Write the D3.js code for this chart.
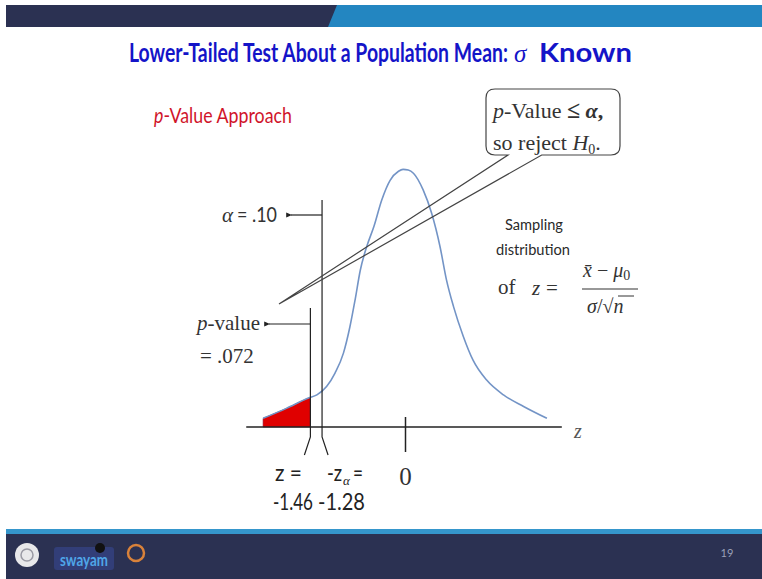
<!DOCTYPE html>
<html><head><meta charset="utf-8">
<script src="https://cdn.jsdelivr.net/npm/d3@7"></script>
<style>body{margin:0;background:#fff}svg{display:block}</style>
</head><body>
<script>
// ---- data ----
const curveZ = [-2.19,-1.83,-1.49,-1.36,-1.21,-1.08,-0.95,-0.85,-0.77,-0.69,-0.59,-0.48,-0.36,-0.23,-0.10,-0.03,0.05,0.13,0.28,0.41,0.54,0.64,0.75,0.90,1.05,1.26,1.52,1.83,2.19];
const curveDensity = [0.0135,0.029,0.045,0.050,0.063,0.084,0.115,0.156,0.198,0.244,0.281,0.312,0.353,0.384,0.398,0.401,0.400,0.395,0.369,0.333,0.281,0.229,0.187,0.141,0.104,0.073,0.050,0.032,0.0135];
const criticalZ = -1.28;
const observedZ = -1.46;
const alphaLabel = ".10";
const pValueLabel = ".072";
const tickValues = [0];
const tickLabels = ["0"];

const W = 762, H = 579;
const svg = d3.select("body").append("svg").attr("width", W).attr("height", H);
const sans = "Lato, 'Open Sans', sans-serif";
const serif = "'Liberation Serif', 'DejaVu Serif', serif";

// place a text so that it spans a given width (horizontal condensing like the original narrow font)
function narrow(sel, x0, yb, width){
  const w = sel.node().getComputedTextLength();
  sel.attr("x",0).attr("y",0).attr("transform",`translate(${x0},${yb}) scale(${width/w},1)`);
  return sel;
}

// ---- slide chrome ----
svg.append("rect").attr("x",6).attr("y",5).attr("width",W-6).attr("height",22).attr("fill","#2b3152");
svg.append("path").attr("d","M337,5 L762,5 L762,27 L328,27 Z").attr("fill","#2386c1");
svg.append("rect").attr("x",6).attr("y",529).attr("width",W-6).attr("height",6).attr("fill","#3596cc");
svg.append("rect").attr("x",6).attr("y",534).attr("width",W-6).attr("height",H-534).attr("fill","#2b3152");
// footer logos (approximate)
svg.append("circle").attr("cx",27).attr("cy",555).attr("r",12).attr("fill","#e8e8ea");
svg.append("circle").attr("cx",27).attr("cy",555).attr("r",6).attr("fill","none").attr("stroke","#9a9aa4").attr("stroke-width",1.5);
svg.append("rect").attr("x",54).attr("y",547).attr("width",60).attr("height",23).attr("rx",3).attr("fill","#323e78");
narrow(svg.append("text").attr("font-family",sans).attr("font-weight","bold")
  .attr("font-size",17).attr("fill","#4fa6e8").text("swayam"), 60, 566, 48);
svg.append("circle").attr("cx",100).attr("cy",548).attr("r",5).attr("fill","#111");
svg.append("circle").attr("cx",136).attr("cy",553).attr("r",8).attr("fill","none").attr("stroke","#d9823a").attr("stroke-width",2.5);
svg.append("text").attr("x",727).attr("y",557).attr("text-anchor","middle").attr("font-family",sans)
  .attr("font-size",11).attr("fill","#9aa0b8").text("19");

// ---- titles ----
const title = svg.append("g").attr("fill","#1414c8").attr("font-weight","bold").attr("font-size",27);
narrow(title.append("text").attr("font-family",sans).text("Lower-Tailed Test About a Population Mean:"), 129, 62, 379);
title.append("text").attr("x",514).attr("y",62).attr("font-family",serif).attr("font-style","italic").attr("font-weight","normal").attr("font-size",25).text("σ");
narrow(title.append("text").attr("font-family",sans).text("Known"), 539, 62, 93);

const sub = svg.append("text").attr("font-family",sans).attr("font-size",21).attr("fill","#d0142a");
sub.append("tspan").attr("font-style","italic").text("p");
sub.append("tspan").text("-Value Approach");
narrow(sub, 154, 123, 138);

// ---- scales ----
const x = d3.scaleLinear().domain([-2.5, 2.5]).range([243, 567]);
const y = d3.scaleLinear().domain([0, 0.4]).range([427, 170]);
const pts = curveZ.map((z,i)=>({z, d: curveDensity[i]}));

// red tail area up to the observed z
function interp(z){
  for(let i=1;i<pts.length;i++){ if(pts[i].z>=z){const a=pts[i-1],b=pts[i];return a.d+(b.d-a.d)*(z-a.z)/(b.z-a.z);} }
  return pts[pts.length-1].d;
}
const tail = pts.filter(p=>p.z<observedZ).concat([{z:observedZ, d:interp(observedZ)}]);
svg.append("path").datum(tail)
  .attr("d", d3.area().x(p=>x(p.z)).y0(y(0)).y1(p=>y(p.d)).curve(d3.curveMonotoneX))
  .attr("fill","#e00000").attr("stroke","#9a1030").attr("stroke-width",0.6);

// density curve
svg.append("path").datum(pts)
  .attr("d", d3.line().x(p=>x(p.z)).y(p=>y(p.d)).curve(d3.curveMonotoneX))
  .attr("fill","none").attr("stroke","#7394c6").attr("stroke-width",1.6);

// horizontal axis line
svg.append("line").attr("x1",x(-2.45)).attr("x2",x(2.42)).attr("y1",y(0)).attr("y2",y(0))
  .attr("stroke","#222").attr("stroke-width",1.3);
// tick at 0 using d3 axis
const axisG = svg.append("g").attr("transform",`translate(0,${y(0)-10})`)
  .call(d3.axisBottom(x).tickValues(tickValues).tickFormat((d,i)=>tickLabels[i]).tickSize(35).tickPadding(15));
axisG.select(".domain").remove();
axisG.selectAll(".tick line").attr("stroke","#222").attr("stroke-width",1.5);
axisG.selectAll(".tick text").attr("font-family",serif).attr("font-size",25).attr("fill","#333");
svg.append("text").attr("x",578).attr("y",438).attr("text-anchor","middle").attr("font-family",serif).attr("font-style","italic")
  .attr("font-size",20).attr("fill","#555").text("z");

// critical and observed z lines with brackets
const lineCol = "#222";
const xc = x(criticalZ), xo = x(observedZ);
svg.append("path").attr("d",`M${xc},200 V437 L${xc+6},455`).attr("fill","none").attr("stroke",lineCol).attr("stroke-width",1.2);
svg.append("path").attr("d",`M${xo},308 V437 L${xo-6},455`).attr("fill","none").attr("stroke",lineCol).attr("stroke-width",1.2);

// arrows
svg.append("defs").append("marker").attr("id","ah").attr("viewBox","0 0 10 10").attr("refX",2).attr("refY",5)
  .attr("markerWidth",5).attr("markerHeight",5).attr("orient","auto")
  .append("path").attr("d","M10,1 L0,5 L10,9 Z").attr("fill","#222");
svg.append("line").attr("x1",xc).attr("x2",291).attr("y1",215).attr("y2",215).attr("stroke","#222").attr("stroke-width",1.2).attr("marker-end","url(#ah)");
svg.append("line").attr("x1",xo).attr("x2",269).attr("y1",324).attr("y2",324).attr("stroke","#222").attr("stroke-width",1.2).attr("marker-end","url(#ah)");

// alpha label
const al = svg.append("g").attr("fill","#333");
al.append("text").attr("x",222).attr("y",222).attr("font-family",serif).attr("font-style","italic").attr("font-size",21).text("α");
narrow(al.append("text").attr("font-family",sans).attr("font-size",21).text("= " + alphaLabel), 237, 222, 40);

// p-value label
const pv = svg.append("text").attr("x",197).attr("y",330).attr("font-family",serif).attr("font-size",21).attr("fill","#333");
pv.append("tspan").attr("font-style","italic").text("p");
pv.append("tspan").text("-value");
svg.append("text").attr("x",200).attr("y",363).attr("font-family",serif).attr("font-size",21).attr("fill","#333").text("= " + pValueLabel);

// below-axis labels
const bl = svg.append("g").attr("fill","#222").attr("font-family",sans).attr("font-size",23);
narrow(bl.append("text").text("z ="), 275, 481, 27);
narrow(bl.append("text").text(String(observedZ)), 273, 510, 40);
narrow(bl.append("text").text("-z"), 327, 481, 15);
bl.append("text").attr("x",343).attr("y",485).attr("font-family",serif).attr("font-style","italic").attr("font-size",13).text("α");
narrow(bl.append("text").text("="), 353, 481, 10);
narrow(bl.append("text").text(String(criticalZ)), 318, 510, 47);

// callout
const r = 9, bx0 = 486, bx1 = 620, by0 = 89, by1 = 155;
svg.append("path").attr("d",
  `M${bx0+r},${by0} H${bx1-r} Q${bx1},${by0} ${bx1},${by0+r} V${by1-r} Q${bx1},${by1} ${bx1-r},${by1} H541.7 L279,304 L508,${by1} H${bx0+r} Q${bx0},${by1} ${bx0},${by1-r} V${by0+r} Q${bx0},${by0} ${bx0+r},${by0} Z`)
  .attr("fill","none").attr("stroke","#444").attr("stroke-width",1.2);
const c1 = svg.append("text").attr("x",493).attr("y",118).attr("font-family",serif).attr("font-size",22).attr("fill","#333");
c1.append("tspan").attr("font-style","italic").text("p");
c1.append("tspan").text("-Value ");
c1.append("tspan").attr("font-weight","bold").attr("font-size",24).text("≤");
c1.append("tspan").text(" ");
c1.append("tspan").attr("font-weight","bold").attr("font-style","italic").text("α");
c1.append("tspan").attr("font-weight","bold").text(",");
const c2 = svg.append("text").attr("x",493).attr("y",150).attr("font-family",serif).attr("font-size",22).attr("fill","#333");
c2.append("tspan").text("so reject ");
c2.append("tspan").attr("font-style","italic").text("H");
c2.append("tspan").attr("font-size",14).attr("dy",4).text("0");
c2.append("tspan").attr("dy",-4).text(".");

// sampling distribution text
const sd = svg.append("g").attr("fill","#2a2a2a").attr("font-family",sans).attr("font-size",16);
narrow(sd.append("text").text("Sampling"), 505, 230, 58);
narrow(sd.append("text").text("distribution"), 496, 255, 74);
const f = svg.append("g").attr("fill","#333").attr("font-family",serif).attr("font-size",21);
f.append("text").attr("x",498).attr("y",294).text("of");
f.append("text").attr("x",532).attr("y",295).attr("font-style","italic").text("z");
f.append("text").attr("x",546).attr("y",295).text("=");
const num = f.append("text").attr("x",583).attr("y",277).attr("font-size",20);
num.append("tspan").attr("font-style","italic").text("x̄");
num.append("tspan").text(" − ");
num.append("tspan").attr("font-style","italic").text("μ");
num.append("tspan").attr("font-size",14).attr("dy",3).text("0");
svg.append("line").attr("x1",582).attr("x2",638).attr("y1",289).attr("y2",289).attr("stroke","#333").attr("stroke-width",1.1);
const den = f.append("text").attr("x",587).attr("y",313).attr("font-size",20);
den.append("tspan").attr("font-style","italic").text("σ");
den.append("tspan").text("/√");
den.append("tspan").attr("font-style","italic").text("n");
svg.append("line").attr("x1",618).attr("x2",634).attr("y1",296).attr("y2",296).attr("stroke","#333").attr("stroke-width",1);
</script>
</body></html>
